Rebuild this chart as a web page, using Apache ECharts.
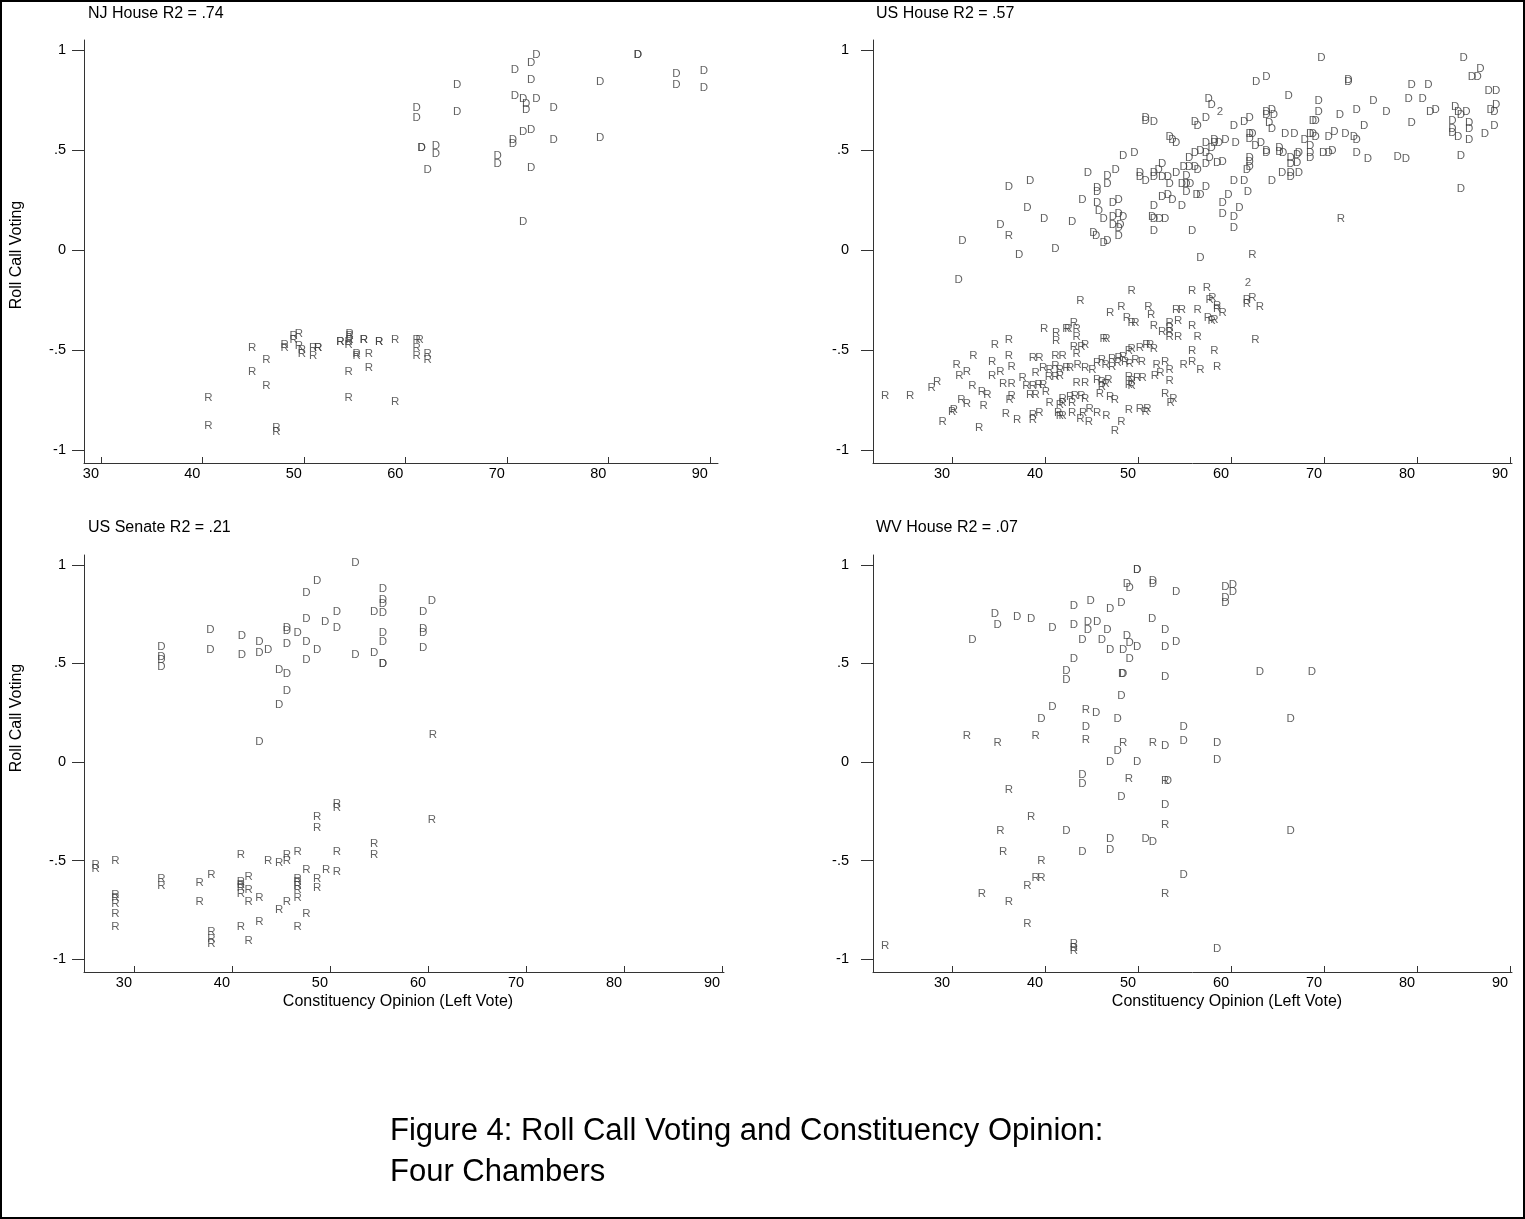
<!DOCTYPE html>
<html><head><meta charset="utf-8">
<script src="https://cdn.jsdelivr.net/npm/echarts@6/dist/echarts.min.js"></script>
<style>html,body{margin:0;padding:0;background:#fff}#c{width:1525px;height:1219px}</style>
</head><body><div id="c"></div>
<script>
// ---------- tick labels / titles ----------
const xTicks = [30, 40, 50, 60, 70, 80, 90];
const yTicks = [-1, -0.5, 0, 0.5, 1];
const yTickLabels = ['-1', '-.5', '0', '.5', '1'];
const panelTitles = ['NJ House R2 = .74', 'US House R2 = .57', 'US Senate R2 = .21', 'WV House R2 = .07'];
const yTitle = 'Roll Call Voting';
const xTitle = 'Constituency Opinion (Left Vote)';
const captionLines = ['Figure 4: Roll Call Voting and Constituency Opinion:', 'Four Chambers'];

// ---------- data: [constituency opinion, roll call voting] ----------
const njD = [[72.9,0.975],[72.4,0.937],[70.8,0.90],[72.4,0.85],[65.1,0.825],[82.9,0.975],[82.9,0.975],[79.2,0.84],[86.7,0.88],[86.7,0.825],[89.4,0.895],[89.4,0.81],[70.8,0.77],[71.6,0.755],[71.9,0.73],[71.9,0.70],[72.9,0.755],[74.6,0.71],[61.1,0.71],[61.1,0.66],[65.1,0.69],[71.6,0.59],[72.4,0.60],[70.6,0.55],[70.6,0.53],[74.6,0.55],[79.2,0.56],[61.6,0.51],[61.6,0.51],[63.0,0.52],[63.0,0.48],[62.2,0.40],[69.1,0.47],[69.1,0.43],[72.4,0.41],[71.6,0.14]];
const njR = [[44.9,-0.49],[46.3,-0.55],[44.9,-0.61],[46.3,-0.68],[40.6,-0.74],[40.6,-0.88],[47.3,-0.89],[47.3,-0.91],[48.1,-0.475],[48.1,-0.49],[49.0,-0.43],[49.5,-0.42],[49.0,-0.45],[49.5,-0.48],[49.8,-0.50],[49.8,-0.52],[50.9,-0.49],[50.9,-0.53],[51.4,-0.49],[51.4,-0.49],[53.6,-0.46],[53.6,-0.46],[54.4,-0.46],[54.5,-0.42],[54.5,-0.43],[54.4,-0.475],[54.5,-0.45],[55.2,-0.52],[55.2,-0.53],[55.9,-0.45],[55.9,-0.45],[56.4,-0.52],[56.4,-0.59],[54.4,-0.61],[54.4,-0.74],[57.4,-0.46],[57.4,-0.46],[59.0,-0.45],[59.0,-0.76],[61.1,-0.45],[61.4,-0.45],[61.1,-0.49],[61.1,-0.53],[62.2,-0.52],[62.2,-0.55]];

const usD = [[57.6,0.755],[57.9,0.725],[50.8,0.66],[50.8,0.645],[51.7,0.64],[56.1,0.64],[56.4,0.62],[57.3,0.66],[53.4,0.565],[53.7,0.55],[54.1,0.535],[57.3,0.535],[58.2,0.55],[58.2,0.535],[58.7,0.535],[59.4,0.55],[57.9,0.51],[48.4,0.47],[49.6,0.485],[56.1,0.485],[56.7,0.495],[57.3,0.485],[57.7,0.46],[55.5,0.46],[54.9,0.415],[55.5,0.415],[56.1,0.415],[56.4,0.40],[57.3,0.43],[58.5,0.435],[59.1,0.44],[52.6,0.43],[52.2,0.40],[51.7,0.385],[51.7,0.365],[50.2,0.385],[50.2,0.365],[50.8,0.345],[52.6,0.365],[53.2,0.365],[54.1,0.385],[53.4,0.33],[55.2,0.37],[55.2,0.33],[54.7,0.33],[55.6,0.33],[57.3,0.315],[55.2,0.29],[56.3,0.275],[56.7,0.275],[52.6,0.265],[53.2,0.275],[53.7,0.25],[54.7,0.22],[51.7,0.22],[59.1,0.235],[59.1,0.18],[59.7,0.275],[47.6,0.40],[46.7,0.37],[46.7,0.33],[44.6,0.385],[45.6,0.31],[45.6,0.29],[44.0,0.25],[45.6,0.235],[47.3,0.235],[47.9,0.25],[45.8,0.195],[46.3,0.155],[47.3,0.165],[47.9,0.18],[48.4,0.165],[47.3,0.125],[47.9,0.11],[48.1,0.125],[51.5,0.165],[51.7,0.155],[52.3,0.155],[52.9,0.155],[51.7,0.095],[55.8,0.095],[56.7,-0.04],[45.2,0.085],[45.5,0.07],[46.3,0.035],[46.7,0.045],[47.9,0.07],[42.9,0.14],[39.9,0.155],[41.1,0.005],[38.1,0.21],[38.4,0.345],[36.1,0.315],[35.2,0.125],[31.1,0.045],[37.2,-0.025],[30.7,-0.15],
 [69.7,0.96],[85.0,0.96],[86.8,0.905],[85.9,0.865],[86.5,0.865],[62.7,0.84],[63.8,0.865],[72.6,0.85],[72.6,0.84],[79.4,0.825],[81.2,0.825],[87.7,0.795],[88.5,0.795],[66.2,0.77],[69.4,0.745],[75.3,0.745],[79.1,0.755],[80.6,0.755],[88.5,0.725],[87.9,0.70],[88.3,0.69],[84.1,0.715],[84.4,0.69],[84.7,0.675],[85.3,0.69],[81.4,0.69],[82.0,0.70],[76.7,0.69],[73.5,0.70],[71.7,0.675],[69.4,0.69],[63.8,0.69],[64.4,0.70],[63.8,0.675],[64.6,0.675],[62.0,0.66],[61.4,0.64],[60.3,0.62],[64.1,0.635],[64.4,0.605],[68.8,0.645],[69.1,0.645],[79.4,0.635],[83.8,0.645],[85.6,0.635],[83.8,0.605],[83.8,0.585],[85.6,0.605],[84.4,0.565],[85.6,0.55],[88.3,0.62],[87.3,0.58],[74.3,0.62],[62.0,0.58],[62.3,0.58],[62.0,0.555],[65.8,0.58],[66.8,0.58],[68.5,0.58],[68.8,0.58],[69.1,0.565],[67.9,0.55],[68.5,0.52],[71.1,0.59],[70.5,0.565],[72.3,0.58],[73.2,0.565],[73.5,0.55],[60.5,0.535],[62.6,0.52],[63.2,0.535],[63.8,0.495],[63.8,0.485],[65.2,0.51],[65.2,0.49],[65.6,0.485],[66.4,0.46],[67.1,0.475],[66.4,0.43],[67.1,0.435],[67.3,0.485],[68.5,0.485],[68.5,0.46],[69.9,0.485],[70.5,0.485],[70.9,0.495],[73.5,0.485],[74.7,0.455],[77.9,0.465],[78.8,0.455],[84.7,0.47],[62.0,0.46],[62.0,0.44],[61.7,0.40],[62.0,0.415],[65.5,0.385],[66.4,0.385],[66.4,0.365],[67.3,0.385],[60.3,0.345],[61.4,0.345],[64.4,0.345],[61.8,0.29],[60.9,0.21],[60.3,0.165],[60.3,0.11],[84.7,0.305]];
const us2 = [[58.8,0.69],[61.8,-0.165]];
const usR = [[71.8,0.155],[62.3,-0.025],[36.1,0.07],
 [22.8,-0.73],[25.5,-0.73],[27.8,-0.69],[28.4,-0.66],[30.0,-0.81],[30.2,-0.80],[29.0,-0.86],[30.5,-0.575],[30.8,-0.63],[31.6,-0.61],[32.3,-0.53],[32.2,-0.68],[33.2,-0.71],[33.8,-0.725],[31.0,-0.75],[31.6,-0.77],[33.4,-0.78],[32.9,-0.89],[34.6,-0.475],[36.1,-0.45],[34.3,-0.56],[34.3,-0.63],[35.2,-0.61],[36.1,-0.53],[36.4,-0.585],[35.5,-0.67],[36.4,-0.67],[36.2,-0.75],[36.4,-0.73],[35.8,-0.82],[37.0,-0.85],[37.6,-0.64],[38.0,-0.68],[38.7,-0.68],[39.3,-0.675],[39.8,-0.675],[38.4,-0.725],[39.0,-0.725],[40.1,-0.71],[38.7,-0.54],[39.4,-0.54],[41.1,-0.53],[41.9,-0.53],[39.0,-0.615],[39.8,-0.59],[40.5,-0.60],[41.1,-0.58],[41.6,-0.60],[42.3,-0.59],[40.4,-0.635],[41.1,-0.635],[41.6,-0.63],[39.9,-0.395],[41.2,-0.415],[41.2,-0.455],[42.3,-0.395],[38.7,-0.825],[38.7,-0.85],[39.4,-0.815],[40.5,-0.765],[41.6,-0.775],[41.9,-0.745],[41.4,-0.815],[41.6,-0.83],
 [49.3,-0.205],[43.8,-0.255],[47.0,-0.315],[48.2,-0.285],[48.8,-0.34],[49.3,-0.365],[49.7,-0.365],[51.1,-0.285],[51.4,-0.325],[51.7,-0.38],[52.6,-0.41],[53.4,-0.365],[53.4,-0.39],[53.4,-0.41],[53.4,-0.435],[54.3,-0.355],[54.3,-0.435],[54.1,-0.30],[54.7,-0.30],[55.8,-0.205],[57.4,-0.19],[56.4,-0.30],[57.7,-0.25],[58.0,-0.24],[58.5,-0.28],[58.5,-0.295],[59.1,-0.315],[57.5,-0.34],[57.9,-0.355],[58.2,-0.35],[55.8,-0.38],[56.4,-0.435],[61.7,-0.25],[61.7,-0.27],[62.3,-0.24],[63.1,-0.285],[62.6,-0.45],[55.8,-0.505],[58.2,-0.505],[54.9,-0.575],[55.8,-0.56],[56.7,-0.60],[58.5,-0.585],[43.1,-0.365],[42.5,-0.395],[43.4,-0.395],[43.4,-0.435],[46.3,-0.445],[46.6,-0.445],[43.1,-0.485],[43.9,-0.485],[44.3,-0.475],[43.4,-0.52],[46.1,-0.55],[47.2,-0.545],[47.9,-0.54],[48.4,-0.535],[49.0,-0.505],[49.3,-0.495],[50.2,-0.49],[50.9,-0.475],[51.3,-0.475],[51.7,-0.495],[45.6,-0.565],[46.5,-0.575],[47.2,-0.585],[47.8,-0.565],[48.6,-0.56],[49.7,-0.55],[50.4,-0.56],[49.1,-0.57],[43.5,-0.575],[44.3,-0.59],[45.1,-0.60],[42.7,-0.59],[52.0,-0.575],[52.9,-0.56],[53.4,-0.60],[51.8,-0.63],[52.4,-0.615],[53.4,-0.655],[49.0,-0.635],[49.3,-0.655],[49.9,-0.64],[50.5,-0.64],[49.0,-0.675],[49.3,-0.68],[45.6,-0.65],[46.1,-0.66],[46.5,-0.67],[46.8,-0.65],[46.1,-0.685],[43.4,-0.665],[44.3,-0.665],[43.2,-0.73],[43.9,-0.73],[42.7,-0.735],[44.3,-0.745],[41.9,-0.765],[42.9,-0.765],[42.9,-0.815],[45.9,-0.72],[47.0,-0.735],[47.5,-0.75],[52.9,-0.72],[53.8,-0.745],[53.5,-0.765],[44.8,-0.795],[45.6,-0.815],[44.1,-0.815],[43.8,-0.845],[44.7,-0.86],[46.6,-0.83],[49.0,-0.80],[50.2,-0.795],[51.0,-0.795],[50.8,-0.81],[48.2,-0.86],[47.5,-0.905],[41.9,-0.83]];

const senD = [[52.6,1.01],[48.7,0.92],[47.6,0.86],[55.4,0.88],[55.4,0.825],[55.4,0.80],[55.4,0.755],[60.4,0.82],[54.5,0.76],[59.5,0.76],[50.7,0.76],[47.6,0.725],[49.5,0.71],[50.7,0.68],[45.6,0.68],[45.6,0.665],[46.7,0.655],[37.8,0.67],[55.4,0.655],[55.4,0.61],[59.5,0.675],[59.5,0.655],[59.5,0.58],[41.0,0.64],[42.8,0.61],[45.6,0.60],[47.6,0.61],[48.7,0.57],[32.8,0.585],[32.8,0.535],[32.8,0.52],[32.8,0.485],[37.8,0.57],[41.0,0.545],[42.8,0.555],[43.7,0.57],[47.6,0.52],[52.6,0.545],[54.5,0.555],[55.4,0.50],[55.4,0.50],[44.8,0.47],[45.6,0.445],[45.6,0.36],[44.8,0.29],[42.8,0.10]];
const senR = [[60.5,0.14],[26.1,-0.52],[26.1,-0.54],[28.1,-0.50],[28.1,-0.675],[28.1,-0.69],[28.1,-0.72],[28.1,-0.77],[28.1,-0.835],[32.8,-0.59],[32.8,-0.63],[36.7,-0.615],[36.7,-0.71],[37.9,-0.57],[37.9,-0.86],[37.9,-0.895],[37.9,-0.92],[40.9,-0.47],[40.9,-0.61],[40.9,-0.625],[40.9,-0.64],[40.9,-0.67],[41.7,-0.58],[41.7,-0.65],[41.7,-0.71],[42.8,-0.69],[40.9,-0.835],[41.7,-0.905],[42.8,-0.81],[43.7,-0.50],[44.8,-0.51],[45.6,-0.50],[45.6,-0.47],[46.7,-0.455],[44.8,-0.75],[45.6,-0.71],[46.7,-0.59],[46.7,-0.61],[46.7,-0.63],[46.7,-0.65],[46.7,-0.69],[47.6,-0.545],[47.6,-0.77],[46.7,-0.835],[48.7,-0.59],[48.7,-0.64],[49.6,-0.545],[50.7,-0.555],[48.7,-0.28],[48.7,-0.335],[50.7,-0.21],[50.7,-0.23],[50.7,-0.455],[54.5,-0.415],[54.5,-0.47],[60.4,-0.295]];

const wvD = [[49.9,0.975],[49.9,0.975],[48.8,0.905],[49.1,0.885],[51.6,0.92],[51.6,0.905],[54.1,0.865],[59.4,0.89],[60.2,0.90],[60.2,0.865],[59.4,0.835],[59.4,0.805],[43.1,0.79],[44.9,0.82],[47.0,0.775],[48.2,0.805],[34.6,0.75],[34.9,0.695],[37.0,0.735],[38.5,0.725],[32.2,0.62],[40.8,0.68],[43.1,0.695],[44.6,0.71],[44.6,0.67],[45.6,0.71],[46.7,0.67],[51.5,0.725],[52.9,0.67],[44.0,0.62],[46.1,0.62],[48.8,0.64],[49.1,0.605],[49.9,0.585],[47.0,0.57],[48.4,0.57],[49.1,0.525],[52.9,0.585],[54.1,0.61],[43.1,0.525],[42.3,0.46],[42.3,0.415],[48.3,0.445],[48.4,0.445],[52.9,0.43],[63.1,0.455],[68.7,0.455],[48.2,0.335],[40.8,0.28],[39.6,0.22],[45.5,0.25],[44.4,0.18],[47.8,0.22],[66.4,0.22],[54.9,0.18],[52.9,0.08],[54.9,0.11],[58.5,0.095],[58.5,0.01],[47.8,0.055],[47.0,0.0],[49.9,0.0],[44.0,-0.065],[44.0,-0.11],[53.2,-0.095],[48.2,-0.175],[52.9,-0.215],[66.4,-0.35],[42.3,-0.35],[47.0,-0.39],[47.0,-0.445],[50.8,-0.39],[51.6,-0.405],[44.0,-0.455],[54.9,-0.57],[58.5,-0.945]];
const wvR = [[44.4,0.265],[31.6,0.135],[34.9,0.095],[39.0,0.135],[44.4,0.115],[48.4,0.095],[51.6,0.095],[49.0,-0.085],[52.9,-0.095],[36.1,-0.14],[38.5,-0.28],[35.2,-0.35],[52.9,-0.32],[35.5,-0.455],[39.6,-0.50],[39.0,-0.585],[39.6,-0.585],[38.1,-0.63],[33.2,-0.67],[36.1,-0.71],[52.9,-0.67],[38.1,-0.82],[22.8,-0.93],[43.1,-0.92],[43.1,-0.94],[43.1,-0.96]];

// ---------- layout ----------
const FONT = '"Liberation Sans", Arial, Helvetica, sans-serif';
const grids = [
  {left: 84, top: 40, width: 634, height: 423},
  {left: 873, top: 40, width: 639, height: 423},
  {left: 84, top: 555, width: 640, height: 417},
  {left: 873, top: 555, width: 639, height: 417}
];
const xRanges = [[28.33, 90.8], [21.5, 90.2], [24.9, 90.2], [21.5, 90.2]];
const yRange = [-1.065, 1.05];
const yLabelMargin = [18, 24, 18, 24];
const AXC = '#333';

const xAxes = grids.map((g, i) => ({
  type: 'value', gridIndex: i, min: xRanges[i][0], max: xRanges[i][1],
  axisLine: {show: true, onZero: false, lineStyle: {color: AXC, width: 1}},
  axisTick: {show: true, inside: true, length: 6, customValues: xTicks, lineStyle: {color: AXC}},
  axisLabel: {show: true, customValues: xTicks, align: 'right', margin: 3, padding: [0, 2, 0, 0],
    fontSize: 14.5, color: '#000', fontFamily: FONT},
  splitLine: {show: false}
}));
const yAxes = grids.map((g, i) => ({
  type: 'value', gridIndex: i, min: yRange[0], max: yRange[1],
  axisLine: {show: true, onZero: false, lineStyle: {color: AXC, width: 1}},
  axisTick: {show: true, inside: false, length: 12, customValues: yTicks, lineStyle: {color: AXC}},
  axisLabel: {show: true, customValues: yTicks, margin: yLabelMargin[i], fontSize: 14.5, color: '#000', fontFamily: FONT,
    formatter: v => { const k = yTicks.findIndex(t => Math.abs(t - v) < 1e-6); return k >= 0 ? yTickLabels[k] : ''; }},
  splitLine: {show: false}
}));

function mk(data, text, gi) {
  return {
    type: 'scatter', xAxisIndex: gi, yAxisIndex: gi, data: data, symbolSize: 1,
    itemStyle: {color: 'rgba(0,0,0,0)'}, silent: true, animation: false,
    label: {show: true, position: 'inside', formatter: text, fontSize: 11.5, color: '#3c3c3c', fontFamily: FONT},
    emphasis: {disabled: true}
  };
}
const series = [
  mk(njD, 'D', 0), mk(njR, 'R', 0),
  mk(usD, 'D', 1), mk(usR, 'R', 1), mk(us2, '2', 1),
  mk(senD, 'D', 2), mk(senR, 'R', 2),
  mk(wvD, 'D', 3), mk(wvR, 'R', 3)
];

function txt(x, y, s, size, align, rot) {
  return {type: 'text', x: x, y: y, rotation: rot || 0, silent: true,
    style: {text: s, fill: '#000', font: size + 'px ' + FONT, align: align, verticalAlign: 'middle',
      textAlign: align, textVerticalAlign: 'middle'}};
}
const graphic = [
  {type: 'rect', silent: true, shape: {x: 1, y: 1, width: 1523, height: 1217}, style: {fill: null, stroke: '#000', lineWidth: 2}},
  txt(88, 14, panelTitles[0], 16, 'left'), txt(876, 14, panelTitles[1], 16, 'left'),
  txt(88, 528, panelTitles[2], 16, 'left'), txt(876, 528, panelTitles[3], 16, 'left'),
  txt(17, 255, yTitle, 16, 'center', Math.PI / 2),
  txt(17, 718, yTitle, 16, 'center', Math.PI / 2),
  txt(398, 1002, xTitle, 16, 'center'),
  txt(1227, 1002, xTitle, 16, 'center'),
  txt(390, 1131, captionLines[0], 31, 'left'), txt(390, 1172, captionLines[1], 31, 'left')
];

const chart = echarts.init(document.getElementById('c'), null, {renderer: 'canvas'});
chart.setOption({
  backgroundColor: '#fff', animation: false,
  grid: grids.map(g => Object.assign({containLabel: false, outerBoundsMode: 'none'}, g)),
  xAxis: xAxes, yAxis: yAxes, series: series, graphic: graphic
});
</script></body></html>
